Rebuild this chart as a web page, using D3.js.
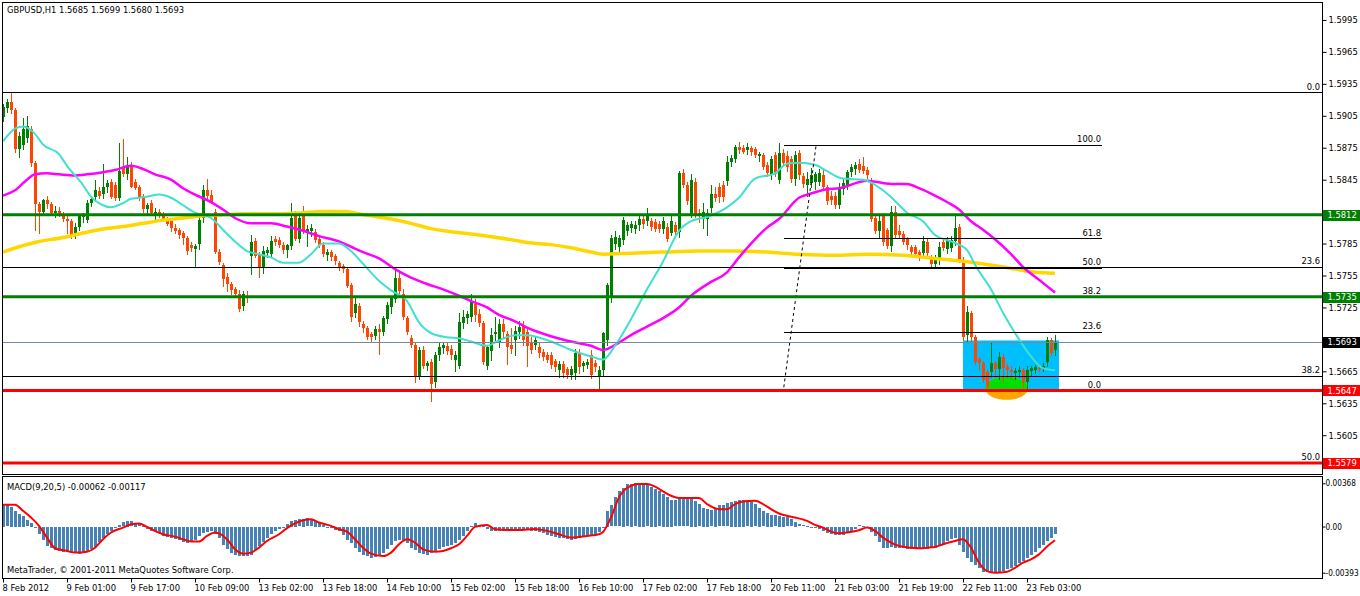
<!DOCTYPE html>
<html><head><meta charset="utf-8">
<script src="https://cdn.jsdelivr.net/npm/d3@7"></script>
<style>
html,body{margin:0;padding:0;background:#fff;overflow:hidden;}
svg{display:block;}
text{font-family:"DejaVu Sans Condensed","Liberation Sans",sans-serif;font-size:9.3px;fill:#000;}
text.macdax{font-size:8.2px;}
</style></head><body>
<svg id="c" width="1360" height="596"></svg>
<script>
// ---------- text ----------
const symbolTitle = "GBPUSD,H1  1.5685 1.5699 1.5680 1.5693";
const macdTitle = "MACD(9,20,5) -0.00062 -0.00117";
const copyright = "MetaTrader, \u00A9 2001-2011 MetaQuotes Software Corp.";

// ---------- time axis (bar index of each label) ----------
const dateLabels = ["8 Feb 2012","9 Feb 01:00","9 Feb 17:00","10 Feb 09:00","13 Feb 02:00","13 Feb 18:00","14 Feb 10:00","15 Feb 02:00","15 Feb 18:00","16 Feb 10:00","17 Feb 02:00","17 Feb 18:00","20 Feb 11:00","21 Feb 03:00","21 Feb 19:00","22 Feb 11:00","23 Feb 03:00"];
const dateTickBars = [0,16,32,48,64,80,96,112,128,144,160,176,192,208,224,240,256];

// ---------- price axis ----------
const priceTicks = [1.5995,1.5965,1.5935,1.5905,1.5875,1.5845,1.5815,1.5785,1.5755,1.5725,1.5695,1.5665,1.5635,1.5605,1.5575];
const macdTicks = [0.00368,0,-0.00393];
const macdTickLabels = ["0.00368","0.00","-0.00393"];

// ---------- OHLC (H1 bars) ----------
const opens = [
1.5904,1.5912,1.5918,1.5910,1.5874,1.5878,1.5884,1.5893,1.5861,1.5822,
1.5815,1.5826,1.5822,1.5814,1.5816,1.5813,1.5808,1.5806,1.5794,1.5801,
1.5810,1.5807,1.5823,1.5829,1.5834,1.5832,1.5838,1.5843,1.5840,1.5828,
1.5857,1.5850,1.5858,1.5843,1.5838,1.5830,1.5817,1.5823,1.5812,1.5815,
1.5812,1.5808,1.5806,1.5800,1.5798,1.5795,1.5790,1.5784,1.5780,1.5785,
1.5809,1.5835,1.5831,1.5815,1.5777,1.5765,1.5754,1.5747,1.5742,1.5738,
1.5726,1.5736,1.5773,1.5787,1.5774,1.5762,1.5776,1.5775,1.5789,1.5788,
1.5784,1.5779,1.5783,1.5811,1.5789,1.5812,1.5796,1.5797,1.5796,1.5789,
1.5784,1.5774,1.5777,1.5773,1.5767,1.5764,1.5761,1.5746,1.5720,1.5726,
1.5709,1.5706,1.5700,1.5698,1.5705,1.5702,1.5714,1.5725,1.5733,1.5753,
1.5738,1.5715,1.5696,1.5690,1.5661,1.5685,1.5670,1.5674,1.5655,1.5680,
1.5687,1.5689,1.5686,1.5676,1.5670,1.5710,1.5715,1.5716,1.5728,1.5719,
1.5710,1.5670,1.5684,1.5700,1.5692,1.5709,1.5700,1.5690,1.5694,1.5702,
1.5708,1.5702,1.5693,1.5690,1.5688,1.5683,1.5680,1.5680,1.5675,1.5666,
1.5672,1.5667,1.5662,1.5663,1.5682,1.5670,1.5671,1.5680,1.5673,1.5660,
1.5666,1.5694,1.5736,1.5785,1.5782,1.5788,1.5797,1.5800,1.5799,1.5802,
1.5808,1.5806,1.5806,1.5805,1.5803,1.5799,1.5801,1.5795,1.5802,1.5796,
1.5851,1.5840,1.5813,1.5843,1.5814,1.5808,1.5808,1.5818,1.5832,1.5838,
1.5840,1.5844,1.5862,1.5864,1.5876,1.5875,1.5873,1.5875,1.5874,1.5867,
1.5868,1.5859,1.5850,1.5868,1.5845,1.5870,1.5867,1.5864,1.5846,1.5870,
1.5848,1.5840,1.5842,1.5843,1.5843,1.5849,1.5838,1.5830,1.5830,1.5821,
1.5836,1.5840,1.5852,1.5855,1.5860,1.5858,1.5854,1.5844,1.5809,1.5797,
1.5811,1.5798,1.5783,1.5815,1.5797,1.5794,1.5789,1.5782,1.5782,1.5777,
1.5776,1.5786,1.5772,1.5766,1.5770,1.5786,1.5780,1.5781,1.5787,1.5801,
1.5770,1.5699,1.5720,1.5697,1.5677,1.5673,1.5664,1.5664,1.5673,1.5667,
1.5678,1.5669,1.5666,1.5663,1.5664,1.5666,1.5655,1.5665,1.5666,1.5668,
1.5667,1.5674,1.5694,1.5685];
const highs = [
1.5916,1.5921,1.5927,1.5912,1.5890,1.5903,1.5905,1.5895,1.5863,1.5824,
1.5827,1.5830,1.5824,1.5820,1.5819,1.5815,1.5812,1.5808,1.5804,1.5813,
1.5814,1.5826,1.5830,1.5845,1.5838,1.5860,1.5845,1.5846,1.5843,1.5879,
1.5883,1.5866,1.5862,1.5846,1.5840,1.5832,1.5823,1.5826,1.5818,1.5817,
1.5815,1.5810,1.5808,1.5803,1.5800,1.5797,1.5792,1.5786,1.5785,1.5810,
1.5840,1.5846,1.5835,1.5817,1.5780,1.5767,1.5757,1.5749,1.5744,1.5741,
1.5740,1.5740,1.5793,1.5790,1.5777,1.5783,1.5782,1.5792,1.5792,1.5791,
1.5786,1.5785,1.5823,1.5816,1.5812,1.5820,1.5802,1.5803,1.5799,1.5791,
1.5786,1.5780,1.5779,1.5775,1.5769,1.5766,1.5763,1.5748,1.5734,1.5729,
1.5712,1.5708,1.5702,1.5708,1.5709,1.5717,1.5730,1.5736,1.5761,1.5757,
1.5742,1.5717,1.5699,1.5692,1.5688,1.5689,1.5675,1.5677,1.5683,1.5692,
1.5693,1.5692,1.5690,1.5684,1.5720,1.5723,1.5722,1.5738,1.5733,1.5724,
1.5712,1.5690,1.5706,1.5716,1.5714,1.5714,1.5703,1.5706,1.5708,1.5712,
1.5712,1.5706,1.5697,1.5698,1.5692,1.5686,1.5683,1.5683,1.5677,1.5675,
1.5675,1.5669,1.5670,1.5686,1.5686,1.5675,1.5677,1.5685,1.5676,1.5670,
1.5702,1.5748,1.5793,1.5797,1.5793,1.5810,1.5805,1.5806,1.5806,1.5812,
1.5812,1.5818,1.5809,1.5808,1.5806,1.5810,1.5804,1.5813,1.5805,1.5853,
1.5855,1.5843,1.5850,1.5847,1.5817,1.5823,1.5817,1.5840,1.5838,1.5842,
1.5844,1.5867,1.5868,1.5878,1.5880,1.5878,1.5879,1.5877,1.5876,1.5871,
1.5870,1.5862,1.5867,1.5871,1.5879,1.5874,1.5872,1.5867,1.5872,1.5873,
1.5851,1.5852,1.5856,1.5852,1.5855,1.5855,1.5840,1.5834,1.5833,1.5842,
1.5846,1.5854,1.5860,1.5862,1.5864,1.5866,1.5857,1.5847,1.5812,1.5812,
1.5814,1.5800,1.5820,1.5820,1.5802,1.5797,1.5791,1.5784,1.5784,1.5779,
1.5792,1.5789,1.5774,1.5774,1.5786,1.5789,1.5791,1.5792,1.5811,1.5803,
1.5772,1.5726,1.5722,1.5699,1.5678,1.5675,1.5666,1.5692,1.5675,1.5683,
1.5681,1.5672,1.5670,1.5668,1.5670,1.5668,1.5670,1.5670,1.5671,1.5672,
1.5673,1.5697,1.5696,1.5699];
const lows = [
1.5900,1.5909,1.5908,1.5871,1.5866,1.5874,1.5880,1.5858,1.5798,1.5795,
1.5812,1.5818,1.5812,1.5810,1.5811,1.5806,1.5795,1.5790,1.5790,1.5798,
1.5805,1.5805,1.5820,1.5825,1.5828,1.5828,1.5833,1.5828,1.5826,1.5826,
1.5848,1.5846,1.5838,1.5836,1.5826,1.5815,1.5812,1.5812,1.5808,1.5810,
1.5806,1.5802,1.5797,1.5795,1.5790,1.5785,1.5775,1.5778,1.5763,1.5780,
1.5805,1.5828,1.5823,1.5776,1.5766,1.5745,1.5740,1.5738,1.5735,1.5722,
1.5723,1.5730,1.5756,1.5772,1.5754,1.5757,1.5772,1.5772,1.5784,1.5782,
1.5776,1.5772,1.5780,1.5788,1.5786,1.5795,1.5783,1.5792,1.5786,1.5782,
1.5773,1.5770,1.5770,1.5766,1.5760,1.5758,1.5744,1.5712,1.5716,1.5708,
1.5702,1.5695,1.5693,1.5695,1.5681,1.5699,1.5710,1.5720,1.5730,1.5738,
1.5714,1.5700,1.5688,1.5655,1.5658,1.5668,1.5666,1.5637,1.5650,1.5676,
1.5682,1.5681,1.5677,1.5665,1.5668,1.5706,1.5710,1.5712,1.5712,1.5708,
1.5672,1.5667,1.5676,1.5694,1.5688,1.5697,1.5672,1.5682,1.5680,1.5696,
1.5690,1.5670,1.5682,1.5686,1.5678,1.5676,1.5674,1.5668,1.5665,1.5660,
1.5660,1.5659,1.5658,1.5658,1.5663,1.5665,1.5668,1.5659,1.5665,1.5648,
1.5662,1.5690,1.5730,1.5780,1.5778,1.5785,1.5793,1.5796,1.5795,1.5798,
1.5800,1.5802,1.5798,1.5797,1.5796,1.5795,1.5787,1.5793,1.5791,1.5791,
1.5838,1.5822,1.5810,1.5810,1.5805,1.5800,1.5793,1.5815,1.5825,1.5824,
1.5825,1.5840,1.5858,1.5862,1.5870,1.5870,1.5869,1.5868,1.5866,1.5863,
1.5855,1.5848,1.5846,1.5848,1.5842,1.5858,1.5853,1.5843,1.5840,1.5846,
1.5838,1.5830,1.5838,1.5836,1.5840,1.5836,1.5822,1.5822,1.5818,1.5818,
1.5832,1.5836,1.5848,1.5850,1.5852,1.5851,1.5847,1.5806,1.5795,1.5790,
1.5784,1.5781,1.5778,1.5791,1.5790,1.5785,1.5780,1.5773,1.5772,1.5770,
1.5772,1.5774,1.5763,1.5764,1.5766,1.5779,1.5776,1.5778,1.5784,1.5768,
1.5694,1.5693,1.5693,1.5672,1.5666,1.5655,1.5647,1.5660,1.5660,1.5658,
1.5655,1.5660,1.5660,1.5658,1.5660,1.5650,1.5648,1.5662,1.5663,1.5665,
1.5665,1.5670,1.5680,1.5680];
const closes = [
1.5913,1.5918,1.5910,1.5874,1.5886,1.5893,1.5895,1.5861,1.5822,1.5815,
1.5826,1.5822,1.5814,1.5816,1.5813,1.5808,1.5806,1.5793,1.5801,1.5811,
1.5813,1.5823,1.5827,1.5835,1.5830,1.5838,1.5842,1.5829,1.5828,1.5853,
1.5850,1.5858,1.5838,1.5837,1.5829,1.5817,1.5821,1.5814,1.5815,1.5812,
1.5808,1.5803,1.5800,1.5797,1.5793,1.5790,1.5778,1.5781,1.5783,1.5807,
1.5835,1.5830,1.5823,1.5777,1.5768,1.5752,1.5747,1.5741,1.5738,1.5724,
1.5738,1.5734,1.5786,1.5773,1.5762,1.5778,1.5779,1.5787,1.5786,1.5784,
1.5779,1.5784,1.5809,1.5789,1.5809,1.5798,1.5799,1.5800,1.5788,1.5784,
1.5775,1.5777,1.5772,1.5769,1.5762,1.5761,1.5745,1.5716,1.5728,1.5711,
1.5706,1.5697,1.5697,1.5705,1.5702,1.5715,1.5727,1.5734,1.5753,1.5740,
1.5716,1.5702,1.5690,1.5661,1.5685,1.5670,1.5673,1.5653,1.5680,1.5688,
1.5690,1.5684,1.5680,1.5680,1.5711,1.5716,1.5719,1.5731,1.5718,1.5710,
1.5674,1.5688,1.5699,1.5702,1.5709,1.5702,1.5688,1.5686,1.5703,1.5707,
1.5694,1.5689,1.5685,1.5694,1.5682,1.5678,1.5676,1.5671,1.5669,1.5672,
1.5663,1.5662,1.5667,1.5682,1.5669,1.5673,1.5674,1.5662,1.5669,1.5666,
1.5701,1.5746,1.5790,1.5791,1.5790,1.5807,1.5802,1.5803,1.5802,1.5808,
1.5803,1.5811,1.5801,1.5799,1.5799,1.5806,1.5789,1.5806,1.5796,1.5851,
1.5840,1.5825,1.5845,1.5812,1.5811,1.5815,1.5814,1.5832,1.5828,1.5829,
1.5829,1.5862,1.5865,1.5876,1.5873,1.5871,1.5876,1.5871,1.5868,1.5869,
1.5857,1.5851,1.5864,1.5850,1.5870,1.5861,1.5857,1.5846,1.5868,1.5849,
1.5841,1.5846,1.5849,1.5850,1.5851,1.5838,1.5825,1.5826,1.5821,1.5838,
1.5842,1.5852,1.5857,1.5859,1.5854,1.5853,1.5849,1.5808,1.5797,1.5806,
1.5786,1.5783,1.5815,1.5793,1.5793,1.5786,1.5784,1.5777,1.5775,1.5772,
1.5787,1.5776,1.5766,1.5772,1.5782,1.5781,1.5788,1.5788,1.5800,1.5770,
1.5697,1.5721,1.5697,1.5674,1.5673,1.5657,1.5650,1.5673,1.5667,1.5678,
1.5668,1.5666,1.5664,1.5665,1.5666,1.5655,1.5666,1.5668,1.5669,1.5667,
1.5670,1.5694,1.5682,1.5693];

// ---------- moving averages (at sample bars) ----------
const maFastBars = [0,3,5,8,10,14,16,20,22,25,27,30,32,36,39,42,45,48,52,55,58,61,64,67,70,74,77,80,84,87,90,94,97,101,104,107,111,114,117,121,124,128,131,137,142,147,150,153,157,161,165,169,172,176,181,184,188,193,196,199,203,206,210,215,220,223,226,230,233,237,241,243,247,250,253,257,260,263];
const maFastValues = [1.5881,1.5893,1.5895,1.5888,1.5878,1.5869,1.5858,1.5840,1.5829,1.5821,1.5819,1.5823,1.5827,1.5829,1.5831,1.5828,1.5821,1.5814,1.5809,1.5798,1.5787,1.5778,1.5775,1.5772,1.5767,1.5767,1.5775,1.5785,1.5785,1.5778,1.5766,1.5750,1.5741,1.5731,1.5711,1.5701,1.5697,1.5696,1.5693,1.5689,1.5694,1.5699,1.5699,1.5693,1.5685,1.5679,1.5676,1.5689,1.5714,1.5742,1.5768,1.5797,1.5806,1.5810,1.5819,1.5828,1.5846,1.5851,1.5860,1.5861,1.5859,1.5853,1.5846,1.5845,1.5835,1.5825,1.5814,1.5806,1.5793,1.5787,1.5779,1.5765,1.5742,1.5720,1.5701,1.5679,1.5668,1.5666];
const maMidBars = [0,3,6,8,11,14,18,21,25,28,32,35,38,42,45,48,52,55,58,62,67,71,75,79,84,87,90,94,98,102,106,110,114,117,121,124,128,131,137,142,147,150,154,157,161,165,169,172,177,181,184,188,191,194,199,202,206,209,216,222,226,229,232,236,239,242,245,248,252,255,259,263];
const maMidValues = [1.5830,1.5835,1.5845,1.5850,1.5851,1.5850,1.5849,1.5850,1.5852,1.5854,1.5858,1.5855,1.5850,1.5845,1.5837,1.5831,1.5824,1.5817,1.5809,1.5804,1.5804,1.5801,1.5797,1.5792,1.5787,1.5782,1.5777,1.5771,1.5761,1.5753,1.5747,1.5742,1.5736,1.5731,1.5725,1.5718,1.5712,1.5706,1.5698,1.5693,1.5689,1.5685,1.5692,1.5699,1.5707,1.5715,1.5725,1.5736,1.5749,1.5758,1.5772,1.5789,1.5800,1.5808,1.5828,1.5832,1.5836,1.5837,1.5844,1.5841,1.5841,1.5837,1.5832,1.5824,1.5817,1.5806,1.5798,1.5789,1.5775,1.5763,1.5751,1.5739];
const maSlowBars = [0,4,9,14,19,24,30,35,40,45,50,55,60,65,70,75,80,85,89,92,97,102,107,112,117,123,128,131,137,142,147,150,157,165,174,182,191,199,208,216,225,233,241,250,258,263];
const maSlowValues = [1.5777,1.5782,1.5787,1.5790,1.5794,1.5798,1.5801,1.5804,1.5807,1.5809,1.5811,1.5812,1.5813,1.5813,1.5813,1.5814,1.5815,1.5815,1.5813,1.5811,1.5808,1.5804,1.5799,1.5796,1.5794,1.5791,1.5788,1.5786,1.5784,1.5781,1.5777,1.5775,1.5776,1.5777,1.5778,1.5778,1.5777,1.5775,1.5774,1.5775,1.5774,1.5771,1.5768,1.5763,1.5758,1.5757];

// ---------- MACD(9,20,5) ----------
const macdHist = [
0.00185,0.0018,0.0017,0.00134,0.0011,0.0009,0.00054,0.0003,-0.0001,-0.0006,
-0.00108,-0.00165,-0.0018,-0.00194,-0.00205,-0.0021,-0.00215,-0.0022,-0.00225,-0.0023,
-0.00225,-0.0021,-0.0019,-0.0017,-0.0013,-0.00094,-0.0006,-0.00037,-0.0001,0.00014,
0.00035,0.0005,0.00045,0.00034,0.0002,0.00006,-0.0002,-0.00037,-0.00045,-0.0005,
-0.0008,-0.00085,-0.00094,-0.001,-0.0011,-0.00125,-0.0014,-0.0013,-0.0011,-0.0008,
-0.0005,-0.0004,-0.00037,-0.0006,-0.00094,-0.0015,-0.00185,-0.0022,-0.00235,-0.00245,
-0.0025,-0.00245,-0.0024,-0.002,-0.00165,-0.0013,-0.00094,-0.0006,-0.00037,-0.00015,
0,0.00025,0.0005,0.00058,0.00063,0.00067,0.0007,0.0006,0.0005,0.0003,
0.00014,0,-0.0001,-0.00025,-0.00037,-0.0007,-0.0011,-0.0014,-0.0018,-0.0021,
-0.0024,-0.0025,-0.0026,-0.00255,-0.0025,-0.0022,-0.0019,-0.0015,-0.0012,-0.00112,
-0.0011,-0.0014,-0.0018,-0.002,-0.0022,-0.0023,-0.0024,-0.00225,-0.0021,-0.0019,
-0.0017,-0.0016,-0.0015,-0.0014,-0.0011,-0.0008,-0.0003,0.00006,0.00026,0.00015,
0.00006,-0.0002,-0.00037,-0.00035,-0.0003,-0.0003,-0.00032,-0.00035,-0.00037,-0.0003,
-0.00025,-0.00023,-0.0003,-0.00037,-0.00045,-0.00055,-0.00066,-0.00075,-0.00085,-0.00094,
-0.00094,-0.001,-0.0011,-0.00105,-0.00094,-0.00085,-0.00074,-0.0007,-0.00066,-0.0004,
-0.0001,0.00134,0.0018,0.0025,0.003,0.0033,0.0036,0.00365,0.00368,0.00366,
0.00362,0.0036,0.0034,0.0032,0.003,0.0028,0.00255,0.0023,0.00225,0.0024,
0.0025,0.0025,0.00235,0.0022,0.0019,0.0016,0.0015,0.0014,0.0015,0.0018,
0.0018,0.002,0.0021,0.0022,0.0023,0.0023,0.00225,0.0021,0.0019,0.0016,
0.0013,0.00115,0.001,0.00095,0.0009,0.00085,0.0008,0.0006,0.0004,0.0002,
0.0001,0.00006,0,-0.0001,-0.0002,-0.00037,-0.0005,-0.0006,-0.00066,-0.00066,
-0.00066,-0.00055,-0.00037,-0.00015,0.0001,0.00005,-0.0001,-0.0004,-0.0008,-0.0013,
-0.0018,-0.0018,-0.0017,-0.00175,-0.0018,-0.0018,-0.00185,-0.0019,-0.0019,-0.0019,
-0.0019,-0.00185,-0.0018,-0.00175,-0.00165,-0.0015,-0.0012,-0.00105,-0.00094,-0.0015,
-0.0021,-0.0026,-0.003,-0.0032,-0.0035,-0.0038,-0.00385,-0.00393,-0.0039,-0.0038,
-0.00375,-0.0036,-0.00345,-0.0033,-0.0031,-0.0029,-0.00265,-0.0024,-0.0021,-0.0018,
-0.0015,-0.0012,-0.0009,-0.00062];
const macdSignalBars = [0,3,5,7,9,11,13,16,18,21,23,25,27,30,32,34,36,38,40,43,45,47,49,51,53,56,58,60,62,64,66,69,71,73,75,77,79,82,84,86,88,90,92,95,97,99,101,103,105,108,110,112,114,116,118,121,123,126,129,133,136,139,142,146,149,150,152,154,156,159,161,163,165,167,169,174,176,179,181,183,185,188,190,192,194,196,198,201,203,205,207,209,211,214,216,218,220,222,224,227,229,231,233,235,238,240,242,244,246,248,251,253,255,257,259,261,263];
const macdSignalValues = [0.00185,0.00185,0.00134,0.00077,0.00006,-0.00094,-0.00185,-0.00208,-0.00222,-0.00214,-0.0018,-0.00108,-0.00051,-0.00009,0.0002,0.00026,-0.00003,-0.00037,-0.00066,-0.00086,-0.00108,-0.00128,-0.00128,-0.0008,-0.00051,-0.00108,-0.00194,-0.00231,-0.00222,-0.0018,-0.00123,-0.00066,-0.00014,0.00026,0.00054,0.00063,0.00034,0.00006,-0.00023,-0.00043,-0.00108,-0.0018,-0.00231,-0.00251,-0.00222,-0.00151,-0.00108,-0.00137,-0.00194,-0.00214,-0.00208,-0.00185,-0.00151,-0.0008,-0.00003,0.00014,-0.00023,-0.00029,-0.00029,-0.0002,-0.00037,-0.00066,-0.00094,-0.0008,-0.00066,-0.00046,0.00077,0.00248,0.00328,0.00362,0.00362,0.00339,0.00299,0.00262,0.00242,0.00242,0.00191,0.00148,0.00148,0.00191,0.00214,0.00219,0.00191,0.00148,0.00111,0.00091,0.00077,0.00048,0.00014,-0.00009,-0.00043,-0.00057,-0.00051,-0.00031,-0.00009,-0.00037,-0.00094,-0.00137,-0.00165,-0.0018,-0.00185,-0.0018,-0.00174,-0.00151,-0.00123,-0.00108,-0.0018,-0.00308,-0.00379,-0.00393,-0.00385,-0.00351,-0.00308,-0.00279,-0.00237,-0.0017,-0.00117];

// ---------- objects ----------
const hLines = [
  {price:1.5812, color:"#008000", width:3, label:"1.5812"},
  {price:1.5735, color:"#008000", width:3, label:"1.5735"},
  {price:1.5647, color:"#FF0000", width:3, label:"1.5647"},
  {price:1.5579, color:"#FF0000", width:3, label:"1.5579"}
];
const bidPrice = 1.5693;
const fibBigLevels = ["0.0","23.6","38.2","50.0"];
const fibBigPrices = [1.5927,1.5763,1.5661,1.5579];
const fibSmallLevels = ["0.0","23.6","38.2","50.0","61.8","100.0"];
const fibSmallPrices = [1.5647,1.5702,1.5735,1.57625,1.5790,1.5878];
const fibSmallStartBar = 195.2, fibSmallEndBar = 274.8;
const fibSmallTrend = [{bar:195.2, price:1.5650},{bar:203.3, price:1.5878}];
const boxBars = [240, 264], boxPrices = [1.5648, 1.5694];
const ellipseCenter = {bar:250.9, price:1.5649}, ellipseHalfBars = 5.4, ellipseHalfPrice = 0.00108;

// ---------- layout ----------
const L = 2.5, R = 1322.5, mainTop = 2.5, mainBot = 474.5, macdTop = 476.5, macdBot = 578.5;
const svg = d3.select("#c");
const x = d3.scaleLinear().domain([0, 330]).range([3, 1323]);
const y = d3.scaleLinear().domain([1.55681, 1.60114]).range([474.5, 2.5]);
const ym = d3.scaleLinear().domain([-0.00393, 0.00368]).range([572.7, 483.3]);
const cy = v => Math.round(y(v)) + 0.5;

const defs = svg.append("defs");
defs.append("clipPath").attr("id","clipMain").append("rect")
  .attr("x",L+0.5).attr("y",mainTop+0.5).attr("width",R-L-1).attr("height",mainBot-mainTop-1);
defs.append("clipPath").attr("id","clipMacd").append("rect")
  .attr("x",L+0.5).attr("y",macdTop+0.5).attr("width",R-L-1).attr("height",macdBot-macdTop-1);
defs.append("clipPath").attr("id","clipBox").append("rect")
  .attr("x",x(boxBars[0])).attr("y",y(boxPrices[1])).attr("width",x(boxBars[1])-x(boxBars[0])).attr("height",y(boxPrices[0])-y(boxPrices[1]));

const main = svg.append("g").attr("clip-path","url(#clipMain)");

// background objects
main.append("rect").attr("x",x(boxBars[0])).attr("y",y(boxPrices[1]))
  .attr("width",x(boxBars[1])-x(boxBars[0])).attr("height",y(boxPrices[0])-y(boxPrices[1])).attr("fill","#00BFFF");
const ecx = x(ellipseCenter.bar), ecy = y(ellipseCenter.price);
const erx = x(ellipseCenter.bar+ellipseHalfBars)-ecx, ery = y(ellipseCenter.price-ellipseHalfPrice)-ecy;
main.append("ellipse").attr("cx",ecx).attr("cy",ecy).attr("rx",erx).attr("ry",ery).attr("fill","#FFA500");
main.append("ellipse").attr("cx",ecx).attr("cy",ecy).attr("rx",erx).attr("ry",ery).attr("fill","#00E000").attr("clip-path","url(#clipBox)");

// candles
const bars = d3.range(closes.length).map(i => ({i, o:opens[i], h:highs[i], l:lows[i], c:closes[i]}));
const cg = main.append("g");
const col = d => d.c >= d.o ? "#008000" : "#FF4500";
cg.selectAll("rect.wick").data(bars).join("rect").attr("class","wick")
  .attr("x", d => Math.round(x(d.i)))
  .attr("y", d => Math.round(y(d.h)))
  .attr("width", 1)
  .attr("height", d => Math.max(1, Math.round(y(d.l)) - Math.round(y(d.h)) + 1))
  .attr("fill", col);
cg.selectAll("rect.body").data(bars).join("rect").attr("class","body")
  .attr("x", d => Math.round(x(d.i)) - 1)
  .attr("y", d => Math.round(y(Math.max(d.o,d.c))))
  .attr("width", 3)
  .attr("height", d => Math.max(1, Math.round(y(Math.min(d.o,d.c))) - Math.round(y(Math.max(d.o,d.c)))))
  .attr("fill", col);

// moving averages
const maLine = d3.line().x(d => x(d[0])).y(d => y(d[1])).curve(d3.curveMonotoneX);
main.append("path").datum(d3.zip(maSlowBars, maSlowValues)).attr("d", maLine)
  .attr("fill","none").attr("stroke","#FFD700").attr("stroke-width",3.5);
main.append("path").datum(d3.zip(maMidBars, maMidValues)).attr("d", maLine)
  .attr("fill","none").attr("stroke","#FF00FF").attr("stroke-width",2.5);
main.append("path").datum(d3.zip(maFastBars, maFastValues)).attr("d", maLine)
  .attr("fill","none").attr("stroke","#40E0D0").attr("stroke-width",2);

// big fibonacci (full width)
const og = main.append("g");
og.selectAll("line.fb").data(fibBigPrices).join("line").attr("class","fb")
  .attr("x1",L).attr("x2",R).attr("y1",d=>cy(d)).attr("y2",d=>cy(d)).attr("stroke","#000").attr("stroke-width",1);
// small fibonacci
og.selectAll("line.fs").data(fibSmallPrices).join("line").attr("class","fs")
  .attr("x1",Math.round(x(fibSmallStartBar))).attr("x2",Math.round(x(fibSmallEndBar)))
  .attr("y1",d=>cy(d)).attr("y2",d=>cy(d)).attr("stroke","#000").attr("stroke-width",1);
og.append("line")
  .attr("x1",x(fibSmallTrend[0].bar)).attr("y1",y(fibSmallTrend[0].price))
  .attr("x2",x(fibSmallTrend[1].bar)).attr("y2",y(fibSmallTrend[1].price))
  .attr("stroke","#000").attr("stroke-width",1).attr("stroke-dasharray","3,3");

// bid line
og.append("line").attr("x1",L).attr("x2",R).attr("y1",cy(bidPrice)).attr("y2",cy(bidPrice)).attr("stroke","#778899").attr("stroke-width",1);
// horizontal levels
og.selectAll("line.hl").data(hLines).join("line").attr("class","hl")
  .attr("x1",L).attr("x2",R).attr("y1",d=>y(d.price)).attr("y2",d=>y(d.price))
  .attr("stroke",d=>d.color).attr("stroke-width",d=>d.width);

// fib labels
const lg = svg.append("g");
lg.selectAll("text.fbl").data(fibBigPrices).join("text").attr("class","fbl")
  .attr("x",1320).attr("y",d=>y(d)-2.5).attr("text-anchor","end").text((d,i)=>fibBigLevels[i]);
lg.selectAll("text.fsl").data(fibSmallPrices).join("text").attr("class","fsl")
  .attr("x",Math.round(x(fibSmallEndBar))-1).attr("y",d=>y(d)-2.5).attr("text-anchor","end").text((d,i)=>fibSmallLevels[i]);

// ---------- MACD panel ----------
const mg = svg.append("g").attr("clip-path","url(#clipMacd)");
mg.selectAll("rect.h").data(macdHist).join("rect").attr("class","h")
  .attr("x",(d,i)=>Math.round(x(i))-1)
  .attr("y",d=>Math.round(Math.min(ym(0),ym(d))))
  .attr("width",3)
  .attr("height",d=>Math.max(1,Math.round(Math.abs(ym(d)-ym(0)))))
  .attr("fill","#4682B4");
mg.append("path").datum(d3.zip(macdSignalBars, macdSignalValues))
  .attr("d", d3.line().x(d=>x(d[0])).y(d=>ym(d[1])).curve(d3.curveMonotoneX))
  .attr("fill","none").attr("stroke","#FF0000").attr("stroke-width",2);

// ---------- frames ----------
svg.append("rect").attr("x",L).attr("y",mainTop).attr("width",R-L).attr("height",mainBot-mainTop)
  .attr("fill","none").attr("stroke","#000");
svg.append("rect").attr("x",L).attr("y",macdTop).attr("width",R-L).attr("height",macdBot-macdTop)
  .attr("fill","none").attr("stroke","#000");

// ---------- axes ----------
const tags = hLines.map(d => ({price:d.price, bg:d.color, label:d.label}))
  .concat([{price:bidPrice, bg:"#000", label:"1.5693"}]);
const ay = svg.append("g").attr("transform",`translate(${R},0)`)
  .call(d3.axisRight(y).tickValues(priceTicks).tickSize(4).tickPadding(2).tickFormat(d3.format(".4f")));
ay.select(".domain").remove();
ay.selectAll("line").attr("stroke","#000");
// tick labels covered by a highlighted price tag are hidden (the tag sits on top)
ay.selectAll(".tick").filter(d => tags.some(t => Math.abs(y(t.price) - y(d)) < 9)).select("text").remove();

const am = svg.append("g").attr("transform",`translate(${R},0)`)
  .call(d3.axisRight(ym).tickValues(macdTicks).tickSize(3).tickPadding(0).tickFormat((d,i)=>macdTickLabels[i]));
am.select(".domain").remove();
am.selectAll("line").attr("stroke","#000");
am.selectAll("text").attr("class","macdax");

const ax = svg.append("g").attr("transform",`translate(0,${macdBot})`)
  .call(d3.axisBottom(x).tickValues(dateTickBars).tickSize(4).tickPadding(2).tickFormat((d,i)=>dateLabels[i]));
ax.select(".domain").remove();
ax.selectAll("text").attr("text-anchor","start").attr("dx","-1");
ax.selectAll("line").attr("stroke","#000");

// highlighted price labels on the axis
const tg = svg.append("g");
tg.selectAll("rect").data(tags).join("rect")
  .attr("x",R+0.5).attr("y",d=>Math.round(y(d.price))-5).attr("width",1360-R).attr("height",11).attr("fill",d=>d.bg);
tg.selectAll("text").data(tags).join("text")
  .attr("x",R+5).attr("y",d=>y(d.price)).attr("dy","0.34em").style("fill","#fff").text(d=>d.label);

// ---------- titles ----------
svg.append("text").attr("x",7).attr("y",13).text(symbolTitle);
svg.append("text").attr("x",7).attr("y",490).text(macdTitle);
svg.append("text").attr("x",7).attr("y",573).text(copyright);
</script>
</body></html>
